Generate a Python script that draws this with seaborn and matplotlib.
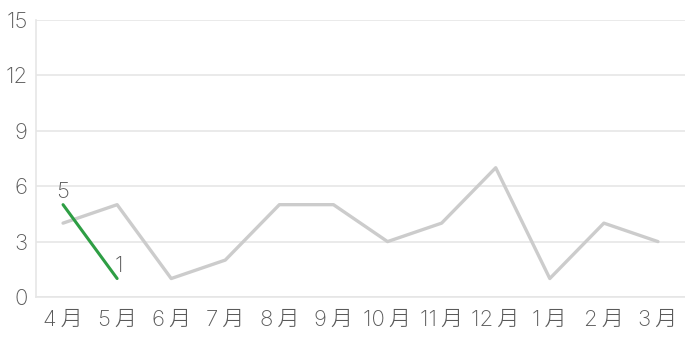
import matplotlib
matplotlib.use("Agg")
import matplotlib.pyplot as plt
import seaborn as sns
import pandas as pd

months = ["4月", "5月", "6月", "7月", "8月", "9月", "10月", "11月", "12月", "1月", "2月", "3月"]
prev_values = [4, 5, 1, 2, 5, 5, 3, 4, 7, 1, 4, 3]
curr_months = ["4月", "5月"]
curr_values = [5, 1]
y_ticks = [0, 3, 6, 9, 12, 15]

sns.set_theme(style="white")
plt.rcParams['font.family'] = ['Inter', 'Noto Sans CJK JP', 'DejaVu Sans']

TXT = "#5a5a5a"
FS = 16

fig = plt.figure(figsize=(6.85, 3.52), dpi=100)
ax = fig.add_axes([36/685, 1-297/352, 1-36/685, (297-20)/352])

df_prev = pd.DataFrame({"x": list(range(len(months))), "y": prev_values})
df_curr = pd.DataFrame({"x": list(range(len(curr_months))), "y": curr_values})

sns.lineplot(data=df_prev, x="x", y="y", ax=ax, color="#cccccc", linewidth=2.4, zorder=2)
sns.lineplot(data=df_curr, x="x", y="y", ax=ax, color="#2e9e44", linewidth=2.2, zorder=3)

ax.annotate(str(curr_values[0]), (0, curr_values[0]), xytext=(0, 2), textcoords="offset points",
            ha="center", va="bottom", fontsize=FS, color=TXT, fontweight="light")
ax.annotate(str(curr_values[1]), (1, curr_values[1]), xytext=(-2, 2), textcoords="offset points",
            ha="left", va="bottom", fontsize=FS, color=TXT, fontweight="light")

ax.set_xlim(-0.5, len(months) - 0.5)
ax.set_ylim(0, 15)
ax.set_yticks(y_ticks)
ax.set_yticklabels([str(v) for v in y_ticks], fontweight="light")
ax.set_xticks(range(len(months)))
ax.set_xticklabels([m.replace("月", "\u2009月") for m in months], fontweight="light")
ax.grid(axis="y", color="#e6e6e6", linewidth=1.2)
ax.set_axisbelow(True)
ax.set_xlabel("")
ax.set_ylabel("")
for s in ["top", "right"]:
    ax.spines[s].set_visible(False)
for s in ["left", "bottom"]:
    ax.spines[s].set_color("#e6e6e6")
    ax.spines[s].set_linewidth(1.2)
ax.tick_params(axis="both", length=0, labelsize=FS, colors=TXT)
ax.tick_params(axis="x", pad=9)
ax.tick_params(axis="y", pad=6)

fig.savefig("out.png", dpi=100)
